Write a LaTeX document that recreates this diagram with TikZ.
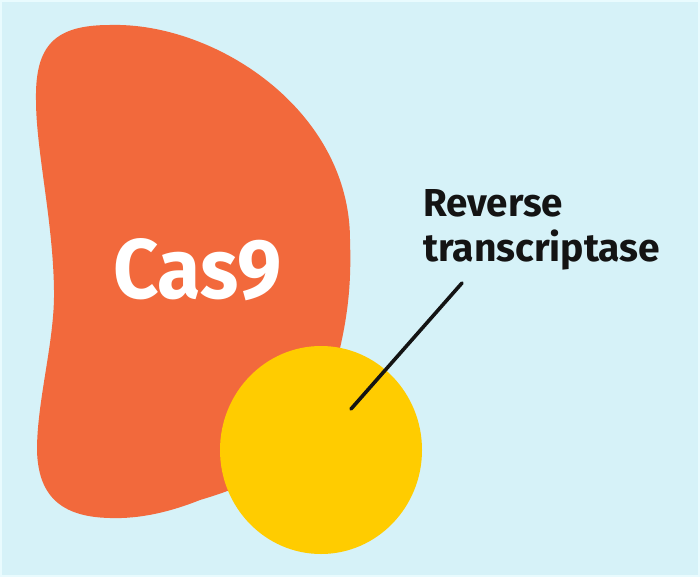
\documentclass[tikz,border=0pt]{standalone}
\usepackage{fontspec}
\setmainfont{Fira Sans}
\usepackage{graphicx}
\definecolor{bgblue}{HTML}{D6F2F8}
\definecolor{edgeblue}{HTML}{E9FBFE}
\definecolor{casorange}{HTML}{F2693C}
\definecolor{rtyellow}{HTML}{FFCC00}
\definecolor{inkblack}{HTML}{141414}
\tikzset{
  blob/.style={fill=casorange, draw=none},
  rtball/.style={fill=rtyellow, draw=none},
  pointer/.style={draw=inkblack, line width=3.6pt, line cap=round},
  lbl/.style={inner sep=0pt, font=\bfseries}
}
\begin{document}
\begin{tikzpicture}[x=1pt, y=-1pt]
  \fill[bgblue] (0,0) rectangle (700,577);
  \useasboundingbox (0,0) rectangle (700,577);
  \draw[edgeblue, line width=1.5pt] (1,1) rectangle (699,576);
  % Cas9 blob
  \path[blob] (110,25) .. controls (215,22) and (350,110) .. (350,240)
    .. controls (352,300) and (345,340) .. (320,420)
    .. controls (290,470) and (240,488) .. (200,500)
    .. controls (170,512) and (140,519) .. (110,518)
    .. controls (60,517) and (38,495) .. (37,450)
    .. controls (37,400) and (55,340) .. (54,290)
    .. controls (53,220) and (36,150) .. (36,100)
    .. controls (35,45) and (55,25) .. (110,25) -- cycle;
  % Reverse transcriptase
  \path[rtball] (321,450) ellipse [x radius=101, y radius=104];
  \node[lbl, text=white, anchor=base west] (cas) at (113,298)
    {\resizebox{169pt}{60pt}{Cas9}};
  \node[lbl, text=inkblack, anchor=base west] (rt) at (423,261)
    {\vbox{\baselineskip=44pt\lineskiplimit=-60pt
      \hbox{\resizebox{140pt}{27pt}{Reverse}}
      \hbox{\resizebox{237pt}{!}{transcriptase}}}};
  \coordinate (ptop) at (462,283);
  \coordinate (pend) at (351,409);
  \draw[pointer] (ptop) -- (pend);
\end{tikzpicture}
\end{document}
